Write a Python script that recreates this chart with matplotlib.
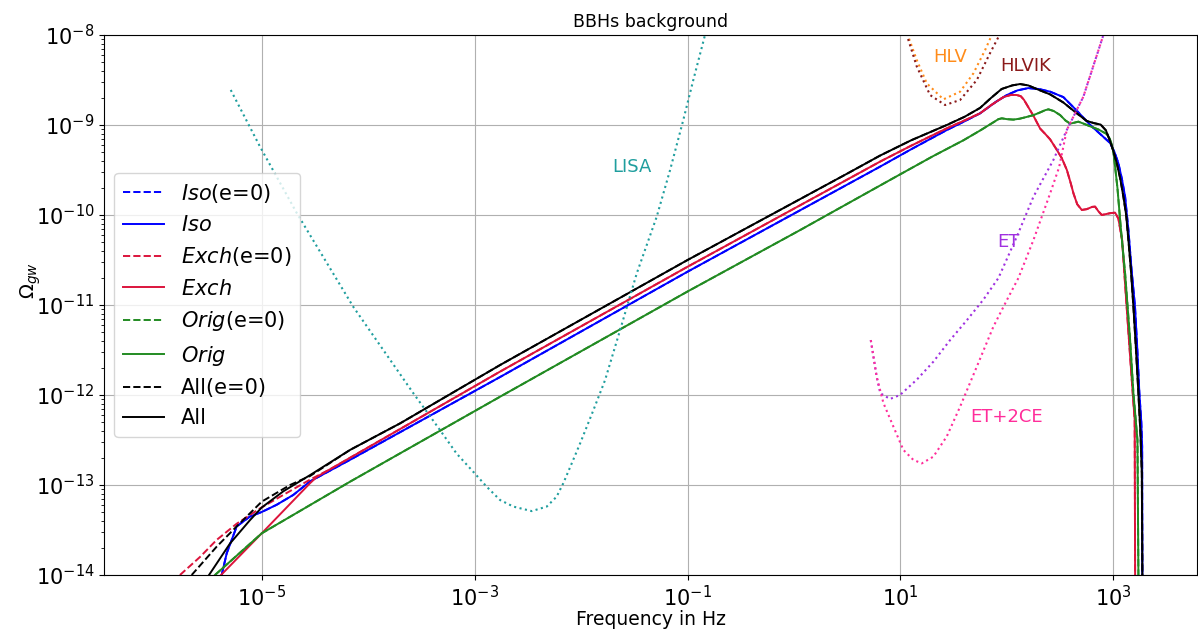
import numpy as np
import matplotlib
matplotlib.use("Agg")
import matplotlib.pyplot as plt

# log10(frequency / Hz) and log10(Omega_gw) of each background curve
lf_iso = [-5.376, -5.329, -5.235, -5.11, -5.0, -4.86, -4.703, -4.546, -4.17, -2.761, -1.0,
          0.808, 1.1, 1.435, 1.6, 1.748, 1.9, 2.0, 2.1, 2.2, 2.3, 2.406, 2.53, 2.656, 2.782,
          2.876, 2.969, 3.01, 3.047, 3.08, 3.11, 3.141, 3.17, 3.203, 3.225, 3.244, 3.262,
          3.27, 3.272]
lo_iso = [-14.0, -13.76, -13.46, -13.35, -13.30, -13.22, -13.11, -12.96, -12.72, -11.80, -10.63,
          -9.463, -9.27, -9.056, -8.96, -8.87, -8.74, -8.667, -8.615, -8.59, -8.60, -8.63, -8.69,
          -8.84, -9.0, -9.10, -9.20, -9.30, -9.426, -9.60, -9.797, -10.167, -10.6, -11.02,
          -11.5, -11.98, -12.3, -12.57, -14.0]

# shared high-frequency part of the Exch curves
lf_exch_hi = [-4.358, -2.761, -1.0, 0.808, 1.1, 1.435, 1.6, 1.748, 1.85, 1.967, 2.04, 2.093,
              2.13, 2.16, 2.2, 2.25, 2.312, 2.36, 2.406, 2.46, 2.516, 2.563, 2.6, 2.625, 2.66,
              2.703, 2.75, 2.8, 2.828, 2.86, 2.891, 2.93, 2.969, 3.016, 3.047, 3.082, 3.12,
              3.166, 3.2, 3.204]
lo_exch_hi = [-12.825, -11.74, -10.575, -9.407, -9.23, -9.037, -8.95, -8.87, -8.78, -8.69,
              -8.665, -8.667, -8.68, -8.72, -8.80, -8.90, -9.04, -9.10, -9.16, -9.26, -9.37,
              -9.5, -9.65, -9.76, -9.88, -9.944, -9.935, -9.91, -9.907, -9.96, -10.0, -9.99,
              -9.98, -9.974, -10.04, -10.28, -10.94, -11.72, -12.28, -14.0]
lf_exch_lo = [-5.382, -5.0, -4.546, -4.483]
lo_exch_lo = [-14.0, -13.537, -12.98, -12.91]
lf_exch0_lo = [-5.768, -5.58, -5.423, -5.235, -5.016, -4.797, -4.546]
lo_exch0_lo = [-14.0, -13.80, -13.61, -13.43, -13.26, -13.11, -12.94]

lf_orig = [-5.439, -5.0, -4.17, -2.761, -1.0, 0.058, 0.903, 1.3, 1.591, 1.75, 1.873, 1.92,
           1.952, 2.0, 2.06, 2.12, 2.187, 2.25, 2.312, 2.36, 2.39, 2.44, 2.5, 2.55, 2.594,
           2.63, 2.671, 2.72, 2.782, 2.86, 2.938, 2.965, 2.985, 3.0, 3.016, 3.038, 3.07,
           3.11, 3.157, 3.188, 3.226, 3.235]
lo_orig = [-14.0, -13.537, -12.963, -12.019, -10.85, -10.167, -9.61, -9.35, -9.17, -9.06,
           -8.97, -8.935, -8.926, -8.935, -8.94, -8.93, -8.91, -8.89, -8.86, -8.835, -8.826,
           -8.845, -8.89, -8.95, -8.985, -8.975, -8.963, -8.985, -9.015, -9.05, -9.10, -9.15,
           -9.22, -9.30, -9.463, -9.70, -10.15, -10.65, -11.39, -11.98, -12.5, -14.0]

# shared high-frequency part of the All curves
lf_all_hi = [-4.17, -3.70, -2.761, -1.0, 0.0, 0.5, 0.808, 1.1, 1.435, 1.6, 1.748, 1.85, 1.95,
             2.05, 2.123, 2.2, 2.3, 2.406, 2.53, 2.656, 2.75, 2.82, 2.88, 2.93, 2.969, 3.0,
             3.032, 3.065, 3.094, 3.12, 3.141, 3.165, 3.188, 3.21, 3.235, 3.255, 3.267, 3.272]
lo_all_hi = [-12.61, -12.315, -11.667, -10.50, -9.86, -9.54, -9.34, -9.17, -9.0, -8.91, -8.81,
             -8.70, -8.60, -8.56, -8.545, -8.56, -8.61, -8.66, -8.75, -8.87, -8.955, -8.98,
             -8.995, -9.06, -9.18, -9.29, -9.426, -9.6, -9.797, -10.0, -10.278, -10.62,
             -11.019, -11.45, -11.98, -12.45, -12.87, -14.0]
lf_all_lo = [-5.495, -5.298, -5.11, -5.0, -4.797, -4.546]
lo_all_lo = [-14.0, -13.65, -13.39, -13.25, -13.07, -12.89]
lf_all0_lo = [-5.658, -5.423, -5.235, -5.0, -4.734, -4.546]
lo_all0_lo = [-14.0, -13.685, -13.46, -13.185, -13.0, -12.9]

# detector sensitivity curves
lf_lisa = [-5.291, -5.016, -4.67, -4.14, -3.576, -3.325, -3.17, -3.0, -2.886, -2.761, -2.636,
           -2.464, -2.323, -2.23, -2.167, -2.088, -2.01, -1.885, -1.775, -1.634, -1.477, -1.29,
           -1.164, -1.04, -0.946, -0.836, -0.8]
lo_lisa = [-8.611, -9.241, -9.98, -11.02, -11.98, -12.39, -12.65, -12.87, -13.02, -13.167,
           -13.24, -13.29, -13.24, -13.13, -12.98, -12.76, -12.54, -12.17, -11.835, -11.28,
           -10.648, -10.02, -9.5, -8.944, -8.5, -8.0, -7.85]
lf_et = [0.721, 0.777, 0.81, 0.902, 0.996, 1.153, 1.309, 1.466, 1.623, 1.779, 1.92, 2.093,
         2.249, 2.436, 2.562, 2.718, 2.906, 2.95]
lo_et = [-11.39, -11.80, -11.98, -12.044, -12.0, -11.83, -11.63, -11.39, -11.17, -10.94, -10.70,
         -10.24, -9.797, -9.389, -9.056, -8.685, -8.0, -7.8]
lf_et2ce = [0.721, 0.777, 0.84, 0.933, 1.027, 1.12, 1.2, 1.309, 1.435, 1.56, 1.717, 1.873, 2.0,
            2.108, 2.249, 2.406, 2.49, 2.562, 2.718, 2.906, 2.95]
lo_et2ce = [-11.39, -11.80, -12.09, -12.35, -12.61, -12.72, -12.76, -12.685, -12.46, -12.13,
            -11.685, -11.24, -10.944, -10.70, -10.278, -9.759, -9.47, -9.056, -8.685, -8.0, -7.8]
lf_hlv = [1.0, 1.074, 1.153, 1.247, 1.403, 1.56, 1.685, 1.795, 1.858, 1.9]
lo_hlv = [-7.75, -8.02, -8.278, -8.537, -8.715, -8.63, -8.426, -8.167, -8.0, -7.85]
lf_hlvik = [1.0, 1.065, 1.153, 1.278, 1.419, 1.56, 1.717, 1.842, 1.93, 1.97]
lo_hlvik = [-7.75, -8.02, -8.35, -8.667, -8.778, -8.722, -8.5, -8.2, -8.0, -7.85]

xlim = (3.3e-7, 6.1e3)
ylim = (1e-14, 1e-8)


def pw(a):
    return 10.0 ** np.asarray(a)


plt.rcParams['font.family'] = 'DejaVu Sans'
plt.rcParams['mathtext.fontset'] = 'dejavusans'

fig = plt.figure(figsize=(11.98, 6.31), dpi=100)
ax = fig.add_axes([104 / 1198, 56 / 631, 1093 / 1198, 540 / 631])

curves = [
    (r'$\it{Iso}$(e=0)', lf_iso, lo_iso, 'blue', '--'),
    (r'$\it{Iso}$', lf_iso, lo_iso, 'blue', '-'),
    (r'$\it{Exch}$(e=0)', lf_exch0_lo + lf_exch_hi, lo_exch0_lo + lo_exch_hi, 'crimson', '--'),
    (r'$\it{Exch}$', lf_exch_lo + lf_exch_hi, lo_exch_lo + lo_exch_hi, 'crimson', '-'),
    (r'$\it{Orig}$(e=0)', lf_orig, lo_orig, 'forestgreen', '--'),
    (r'$\it{Orig}$', lf_orig, lo_orig, 'forestgreen', '-'),
    ('All(e=0)', lf_all0_lo + lf_all_hi, lo_all0_lo + lo_all_hi, 'black', '--'),
    ('All', lf_all_lo + lf_all_hi, lo_all_lo + lo_all_hi, 'black', '-'),
]
for label, lf, lo, col, ls in curves:
    ax.plot(pw(lf), pw(lo), color=col, ls=ls, lw=1.4, label=label)

sens = [
    (lf_lisa, lo_lisa, '#1f9e9e', 'LISA', -1.524, -9.463),
    (lf_hlv, lo_hlv, '#ff8c1a', 'HLV', 1.466, -8.24),
    (lf_hlvik, lo_hlvik, '#8b1a1a', 'HLVIK', 2.18, -8.344),
    (lf_et, lo_et, '#a030e0', 'ET', 2.013, -10.30),
    (lf_et2ce, lo_et2ce, '#ff2d9a', 'ET+2CE', 2.0, -12.24),
]
for lf, lo, col, name, tx, ty in sens:
    ax.plot(pw(lf), pw(lo), color=col, ls=':', lw=1.5)
    ax.text(10 ** tx, 10 ** ty, name, color=col, fontsize=13, ha='center', va='center')

ax.set_xscale('log')
ax.set_yscale('log')
ax.set_xlim(*xlim)
ax.set_ylim(*ylim)
ax.set_xticks([1e-5, 1e-3, 1e-1, 1e1, 1e3])
ax.xaxis.set_minor_locator(matplotlib.ticker.NullLocator())
ax.tick_params(axis='both', which='major', labelsize=15)
ax.grid(True, which='major', color='#b0b0b0', lw=0.8)

ax.set_title('BBHs background', fontsize=12.5)
ax.set_xlabel('Frequency in Hz', fontsize=13.5)
ax.set_ylabel(r'$\Omega_{gw}$', fontsize=14)
ax.xaxis.set_label_coords(0.5, -0.064)
ax.yaxis.set_label_coords(-0.056, 0.545)
ax.legend(loc='center left', fontsize=15)

fig.savefig('out.png', dpi=100)
